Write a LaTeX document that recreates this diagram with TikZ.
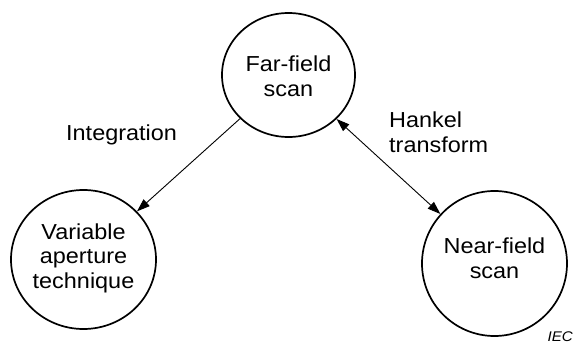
\documentclass[tikz,border=0pt]{standalone}
\usepackage{fontspec}
\setmainfont{Liberation Sans}[FakeStretch=1.08]
\usetikzlibrary{shapes.geometric,arrows.meta}
\begin{document}
\begin{tikzpicture}[x=1pt,y=-1pt,
  ring/.style={draw,ellipse,line width=1.7pt,inner sep=0pt},
  lbl/.style={inner sep=0pt,align=center,font=\fontsize{21.7}{24.5}\selectfont},
  conn/.style={line width=0.9pt}]
\useasboundingbox (0,0) rectangle (574,343);
\node[ring,minimum width=133pt,minimum height=124pt] (far) at (288.5,75) {};
\node[ring,minimum width=145pt,minimum height=139pt] (var) at (83.5,259.5) {};
\node[ring,minimum width=145pt,minimum height=145pt] (near) at (494.5,263.5) {};
\node[lbl] (fart) at (288.5,76.4) {Far-field\\scan};
\node[lbl] (vart) at (83.5,257.9) {Variable\\aperture\\technique};
\node[lbl] (neart) at (494.5,258.2) {Near-field\\scan};
\node[lbl,anchor=base west] (integ) at (66,140) {Integration};
\node[lbl,align=left,anchor=west] (hank) at (389,132.2) {Hankel\\transform};
\node[inner sep=0pt,anchor=base east,font=\fontsize{14}{16}\selectfont\itshape] (iec) at (573,341.5) {IEC};
\draw[conn,-{Triangle[length=13pt,width=9pt]}] (far) -- (var);
\draw[conn,{Triangle[length=13pt,width=9pt]}-{Triangle[length=13pt,width=9pt]}] (far) -- (near);
\end{tikzpicture}
\end{document}
